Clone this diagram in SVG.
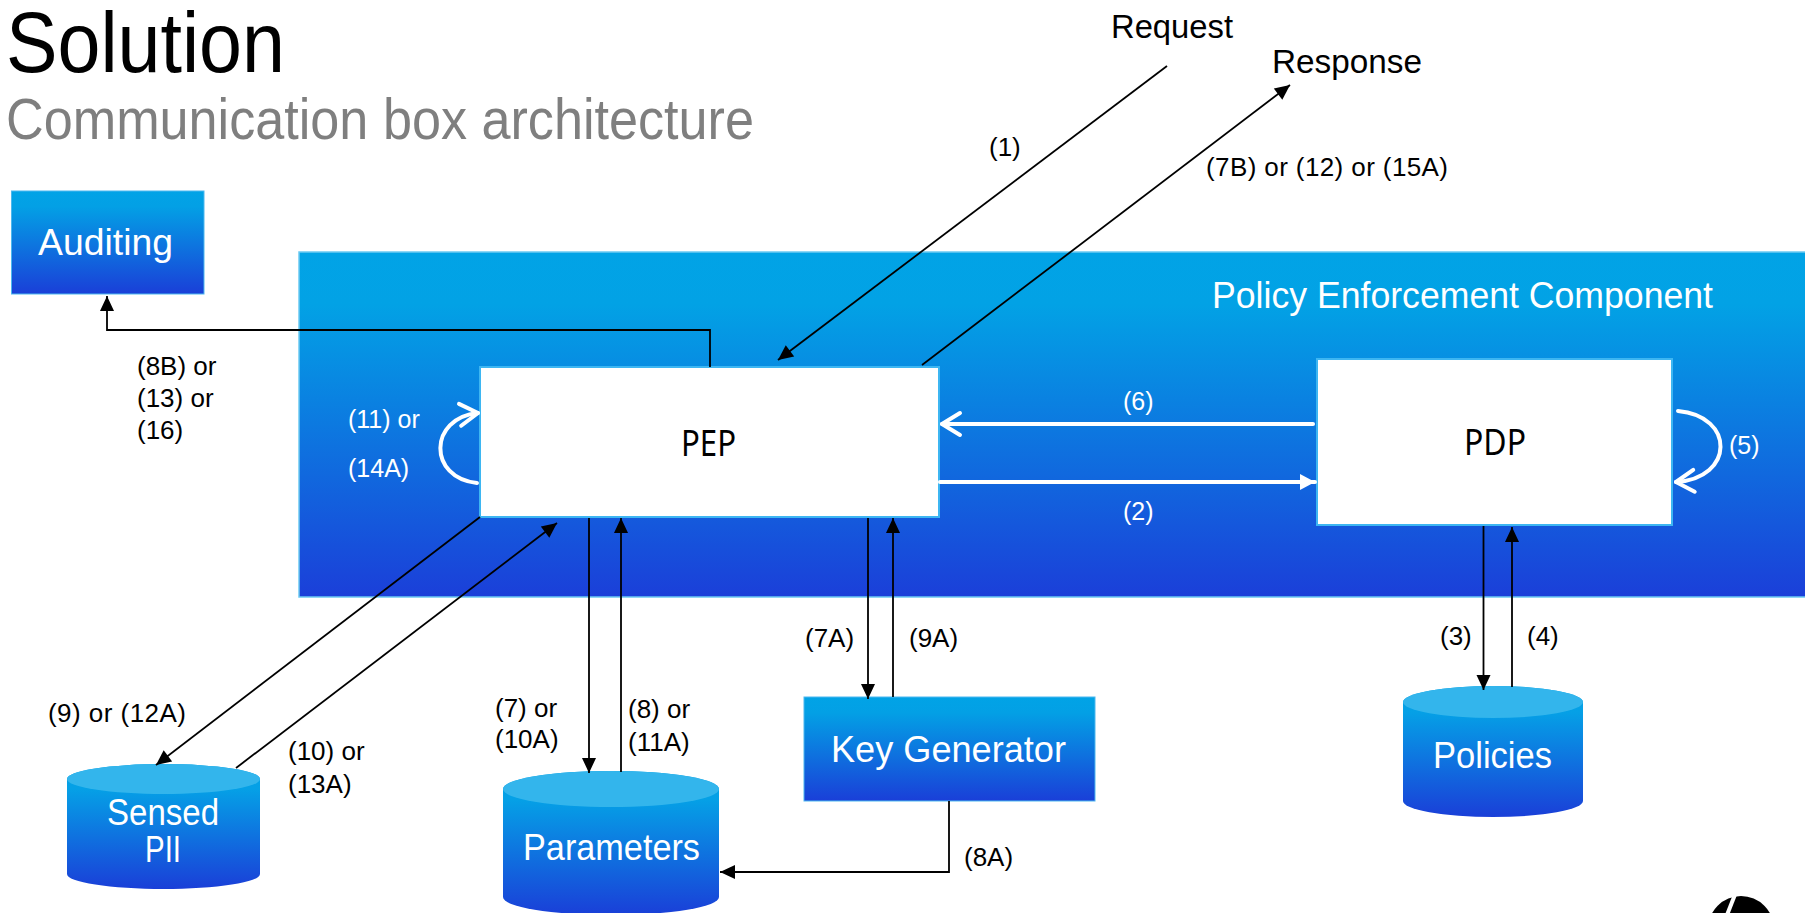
<svg xmlns="http://www.w3.org/2000/svg" width="1805" height="913" viewBox="0 0 1805 913">
<defs>
<linearGradient id="gBig" x1="0" y1="252" x2="0" y2="597" gradientUnits="userSpaceOnUse">
<stop offset="0" stop-color="#01a3e6"/>
<stop offset="0.15" stop-color="#02a2e5"/>
<stop offset="1" stop-color="#1b3fd9"/>
</linearGradient>
<linearGradient id="gBox" x1="0" y1="0" x2="0" y2="1">
<stop offset="0" stop-color="#01a3e6"/>
<stop offset="0.15" stop-color="#03a0e5"/>
<stop offset="1" stop-color="#1a3fd8"/>
</linearGradient>
<linearGradient id="gCyl" x1="0" y1="0" x2="0" y2="1">
<stop offset="0" stop-color="#02a2e6"/>
<stop offset="0.2" stop-color="#05a0e6"/>
<stop offset="1" stop-color="#1a3fd8"/>
</linearGradient>
<marker id="ab" markerUnits="userSpaceOnUse" markerWidth="16" markerHeight="14" refX="15" refY="7" orient="auto" overflow="visible">
<path d="M0,0 L15,7 L0,14 z" fill="#000"/>
</marker>
<marker id="aw" markerUnits="userSpaceOnUse" markerWidth="16" markerHeight="16" refX="15" refY="8" orient="auto" overflow="visible">
<path d="M0,0 L15,8 L0,16 z" fill="#fff"/>
</marker>
<marker id="cw" markerUnits="userSpaceOnUse" markerWidth="24" markerHeight="26" refX="20" refY="12" orient="auto" overflow="visible">
<path d="M2,1 L20,12 L2,23" fill="none" stroke="#fff" stroke-width="4" stroke-linecap="round" stroke-linejoin="round"/>
</marker>
</defs>
<style>
.t{font-family:"Liberation Sans",Arial,sans-serif;}
.lbl{font-family:"Liberation Sans",Arial,sans-serif;font-size:26px;fill:#000;}
.wl{font-family:"Liberation Sans",Arial,sans-serif;font-size:25px;fill:#fff;}
.node{font-family:"Liberation Sans",Arial,sans-serif;font-size:36px;fill:#fff;}
.bx{font-family:"Noto Sans","Open Sans",sans-serif;font-size:37px;fill:#000;}
.blk{stroke:#000;stroke-width:1.8;fill:none;}
.wht{stroke:#fff;stroke-width:4;fill:none;stroke-linecap:round;}
.cyl{fill:url(#gCyl);}
.cyltop{fill:#33b5ec;}
</style>

<g id="title">
<text class="t" x="6" y="72" font-size="85" fill="#000" textLength="279" lengthAdjust="spacingAndGlyphs">Solution</text>
<text class="t" x="6" y="139" font-size="57" fill="#7f7f7f" textLength="748" lengthAdjust="spacingAndGlyphs">Communication box architecture</text>
</g>

<g id="policy-enforcement-component">
<rect x="299" y="252" width="1510" height="345" fill="url(#gBig)" stroke="#6ccaf2" stroke-width="1.5"/>
<text class="t" x="1212" y="308" font-size="37" fill="#fff" textLength="501" lengthAdjust="spacingAndGlyphs">Policy Enforcement Component</text>
</g>

<g id="auditing">
<rect x="11.5" y="191" width="192.5" height="103" fill="url(#gBox)" stroke="#4cb8ef" stroke-width="1"/>
<text class="node" x="38" y="255" font-size="37" textLength="135" lengthAdjust="spacingAndGlyphs">Auditing</text>
</g>

<g id="pep">
<rect x="480" y="367" width="459" height="150" fill="#fff" stroke="#3db6f2" stroke-width="2"/>
<text class="bx" x="681" y="456" textLength="55" lengthAdjust="spacingAndGlyphs">PEP</text>
</g>

<g id="pdp">
<rect x="1317" y="359" width="355" height="166" fill="#fff" stroke="#3db6f2" stroke-width="2"/>
<text class="bx" x="1464" y="455" textLength="62" lengthAdjust="spacingAndGlyphs">PDP</text>
</g>

<g id="key-generator">
<rect x="804" y="697" width="291" height="104" fill="url(#gBox)" stroke="#4cb8ef" stroke-width="1"/>
<text class="node" x="831" y="762" textLength="235" lengthAdjust="spacingAndGlyphs">Key Generator</text>
</g>

<g id="sensed-pii">
<path class="cyl" d="M67,779 L67,874 A96.5,15 0 0 0 260,874 L260,779 A96.5,15 0 0 0 67,779 z"/>
<ellipse class="cyltop" cx="163.5" cy="779" rx="96.5" ry="15"/>
<text class="node" x="107" y="825" textLength="112" lengthAdjust="spacingAndGlyphs">Sensed</text>
<text class="node" x="145" y="862" textLength="36" lengthAdjust="spacingAndGlyphs">PII</text>
</g>

<g id="parameters">
<path class="cyl" d="M503,789 L503,897 A108,18 0 0 0 719,897 L719,789 A108,18 0 0 0 503,789 z"/>
<ellipse class="cyltop" cx="611" cy="789" rx="108" ry="18"/>
<text class="node" x="523" y="860" textLength="177" lengthAdjust="spacingAndGlyphs">Parameters</text>
</g>

<g id="policies">
<path class="cyl" d="M1403,702 L1403,801 A90,16 0 0 0 1583,801 L1583,702 A90,16 0 0 0 1403,702 z"/>
<ellipse class="cyltop" cx="1493" cy="702" rx="90" ry="16"/>
<text class="node" x="1433" y="768" textLength="119" lengthAdjust="spacingAndGlyphs">Policies</text>
</g>

<g id="request">
<text class="t" x="1111" y="38" font-size="34" fill="#000" textLength="122" lengthAdjust="spacingAndGlyphs">Request</text>
</g>
<g id="response">
<text class="t" x="1272" y="73" font-size="34" fill="#000" textLength="150" lengthAdjust="spacingAndGlyphs">Response</text>
</g>

<g id="connectors">
<line class="blk" x1="1167" y1="66" x2="778" y2="360" marker-end="url(#ab)"/>
<line class="blk" x1="922" y1="365" x2="1290" y2="85" marker-end="url(#ab)"/>
<polyline class="blk" points="710,367 710,330 107,330 107,296" marker-end="url(#ab)"/>
<line class="blk" x1="480" y1="517" x2="156" y2="765" marker-end="url(#ab)"/>
<line class="blk" x1="236" y1="768" x2="557" y2="523" marker-end="url(#ab)"/>
<line class="blk" x1="589" y1="518" x2="589" y2="773" marker-end="url(#ab)"/>
<line class="blk" x1="621" y1="772" x2="621" y2="518" marker-end="url(#ab)"/>
<line class="blk" x1="868" y1="518" x2="868" y2="699" marker-end="url(#ab)"/>
<line class="blk" x1="893" y1="697" x2="893" y2="518" marker-end="url(#ab)"/>
<polyline class="blk" points="949,801 949,872 720,872" marker-end="url(#ab)"/>
<line class="blk" x1="1483.5" y1="526" x2="1483.5" y2="690" marker-end="url(#ab)"/>
<line class="blk" x1="1512" y1="687" x2="1512" y2="527" marker-end="url(#ab)"/>
<line class="wht" x1="1313" y1="424" x2="942" y2="424" marker-end="url(#cw)"/>
<line class="wht" x1="940" y1="482" x2="1315" y2="482" stroke-linecap="butt" marker-end="url(#aw)"/>
<path class="wht" d="M1678,411 C1735,416 1735,478 1676,482" marker-end="url(#cw)"/>
<path class="wht" d="M477,483 C428,478 428,418 478,413" marker-end="url(#cw)"/>

<text class="lbl" x="989" y="156">(1)</text>
<text class="lbl" x="1206" y="176" textLength="242">(7B) or (12) or (15A)</text>
<text class="lbl" x="137" y="375">(8B) or</text>
<text class="lbl" x="137" y="407">(13) or</text>
<text class="lbl" x="137" y="439">(16)</text>
<text class="wl" x="348" y="428">(11) or</text>
<text class="wl" x="348" y="477">(14A)</text>
<text class="wl" x="1123" y="410">(6)</text>
<text class="wl" x="1123" y="520">(2)</text>
<text class="wl" x="1729" y="454">(5)</text>
<text class="lbl" x="48" y="722" textLength="138">(9) or (12A)</text>
<text class="lbl" x="288" y="760">(10) or</text>
<text class="lbl" x="288" y="793">(13A)</text>
<text class="lbl" x="495" y="717">(7) or</text>
<text class="lbl" x="495" y="748">(10A)</text>
<text class="lbl" x="628" y="718">(8) or</text>
<text class="lbl" x="628" y="751">(11A)</text>
<text class="lbl" x="805" y="647">(7A)</text>
<text class="lbl" x="909" y="647">(9A)</text>
<text class="lbl" x="1440" y="645">(3)</text>
<text class="lbl" x="1527" y="645">(4)</text>
<text class="lbl" x="964" y="866">(8A)</text>
</g>

<g id="logo">
<circle cx="1741" cy="929" r="33" fill="#000"/>
<line x1="1736" y1="892" x2="1727" y2="915" stroke="#fff" stroke-width="4"/>
</g>
</svg>
